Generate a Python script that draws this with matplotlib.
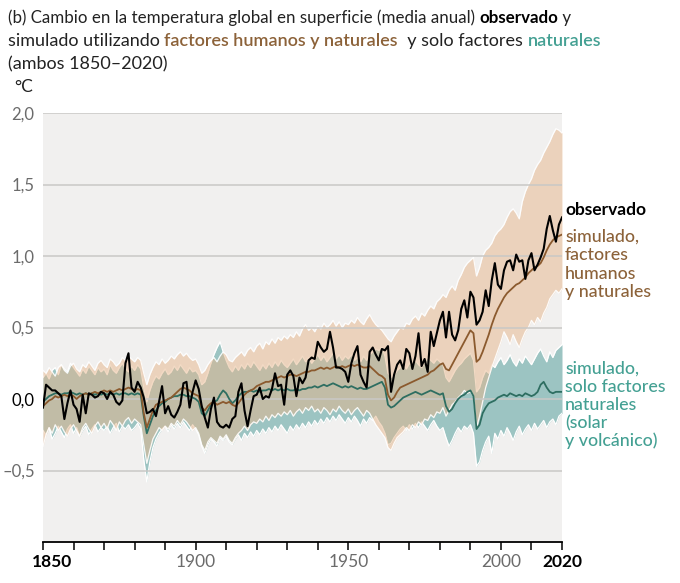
import matplotlib

matplotlib.use("Agg")
import matplotlib.pyplot as plt
import numpy as np
from matplotlib.transforms import blended_transform_factory, offset_copy

plt.rcParams["font.family"] = ["Lato", "DejaVu Sans"]

years = np.arange(1850, 2021)

# observed global surface temperature change vs 1850-1900 (°C)
observed = [
    -0.06, 0.10, 0.08, 0.06, 0.06, 0.04, 0.02, -0.14, -0.03, 0.06,
    -0.04, -0.07, -0.16, 0.03, -0.10, 0.04, 0.03, 0.01, 0.02, 0.05,
    0.04, 0.00, 0.05, 0.03, -0.02, -0.04, -0.01, 0.25, 0.32, 0.08,
    0.05, 0.12, 0.08, 0.01, -0.10, -0.09, -0.07, -0.12, -0.02, 0.09,
    -0.10, -0.05, -0.11, -0.13, -0.09, -0.04, 0.11, 0.12, -0.06, 0.05,
    0.13, 0.07, -0.05, -0.13, -0.20, -0.07, 0.01, -0.16, -0.19, -0.20,
    -0.18, -0.20, -0.14, -0.12, 0.05, 0.11, -0.08, -0.19, -0.08, 0.02,
    0.03, 0.08, 0.00, 0.02, 0.01, 0.07, 0.18, 0.09, 0.10, -0.04,
    0.17, 0.20, 0.16, 0.02, 0.15, 0.11, 0.15, 0.27, 0.29, 0.28,
    0.40, 0.36, 0.33, 0.35, 0.47, 0.36, 0.22, 0.22, 0.21, 0.19,
    0.12, 0.25, 0.32, 0.37, 0.17, 0.12, 0.08, 0.33, 0.36, 0.31,
    0.27, 0.35, 0.34, 0.37, 0.05, 0.17, 0.24, 0.27, 0.21, 0.35,
    0.32, 0.21, 0.30, 0.46, 0.23, 0.28, 0.19, 0.47, 0.37, 0.46,
    0.55, 0.61, 0.43, 0.61, 0.45, 0.41, 0.48, 0.63, 0.69, 0.57,
    0.75, 0.71, 0.52, 0.55, 0.61, 0.76, 0.65, 0.83, 0.95, 0.80,
    0.77, 0.90, 0.96, 0.97, 0.90, 1.01, 0.96, 0.97, 0.84, 0.97,
    1.02, 0.90, 0.94, 0.99, 1.05, 1.19, 1.28, 1.18, 1.10, 1.22,
    1.27,
]

# simulated, human + natural factors: mean and 5-95% range
hum_mean = [
    -0.05, -0.03, -0.01, 0.00, 0.02, 0.01, 0.02, 0.03, 0.02, 0.03,
    0.02, 0.00, 0.02, 0.03, 0.04, 0.03, 0.04, 0.05, 0.04, 0.05,
    0.06, 0.05, 0.06, 0.05, 0.06, 0.07, 0.06, 0.07, 0.08, 0.07,
    0.06, 0.07, 0.06, -0.10, -0.20, -0.14, -0.08, -0.04, -0.03, -0.02,
    -0.01, 0.00, 0.01, 0.03, 0.05, 0.07, 0.08, 0.07, 0.06, 0.04,
    0.03, 0.02, -0.06, -0.08, -0.05, -0.03, -0.02, -0.04, -0.03, -0.02,
    -0.03, -0.02, -0.04, -0.05, -0.03, 0.00, 0.03, 0.05, 0.06, 0.07,
    0.09, 0.10, 0.11, 0.12, 0.12, 0.13, 0.14, 0.15, 0.16, 0.15,
    0.16, 0.17, 0.17, 0.16, 0.17, 0.18, 0.19, 0.19, 0.20, 0.20,
    0.21, 0.22, 0.21, 0.22, 0.21, 0.22, 0.23, 0.22, 0.23, 0.22,
    0.23, 0.24, 0.23, 0.24, 0.23, 0.22, 0.22, 0.23, 0.21, 0.19,
    0.17, 0.16, 0.14, 0.03, -0.01, 0.01, 0.05, 0.08, 0.09, 0.10,
    0.11, 0.12, 0.13, 0.14, 0.15, 0.16, 0.17, 0.19, 0.20, 0.22,
    0.24, 0.25, 0.21, 0.20, 0.24, 0.28, 0.32, 0.36, 0.40, 0.44,
    0.48, 0.46, 0.26, 0.28, 0.33, 0.39, 0.45, 0.52, 0.58, 0.63,
    0.67, 0.71, 0.74, 0.76, 0.78, 0.80, 0.81, 0.83, 0.85, 0.88,
    0.90, 0.92, 0.93, 0.95, 0.99, 1.04, 1.08, 1.11, 1.13, 1.14,
    1.15,
]
hum_high = [
    0.20, 0.18, 0.22, 0.19, 0.16, 0.22, 0.24, 0.20, 0.18, 0.23,
    0.25, 0.21, 0.19, 0.24, 0.22, 0.26, 0.23, 0.20, 0.25, 0.27,
    0.24, 0.22, 0.28, 0.26, 0.23, 0.25, 0.29, 0.27, 0.30, 0.28,
    0.26, 0.29, 0.27, 0.18, 0.10, 0.17, 0.22, 0.26, 0.24, 0.28,
    0.25, 0.27, 0.30, 0.28, 0.31, 0.33, 0.30, 0.32, 0.29, 0.27,
    0.28, 0.24, 0.18, 0.20, 0.24, 0.27, 0.29, 0.26, 0.30, 0.33,
    0.31, 0.27, 0.26, 0.29, 0.31, 0.33, 0.30, 0.34, 0.36, 0.33,
    0.37, 0.39, 0.35, 0.40, 0.38, 0.42, 0.39, 0.43, 0.41, 0.44,
    0.42, 0.45, 0.43, 0.47, 0.44, 0.49, 0.52, 0.48, 0.50, 0.47,
    0.51, 0.49, 0.53, 0.50, 0.52, 0.55, 0.51, 0.54, 0.50, 0.53,
    0.52, 0.55, 0.53, 0.57, 0.54, 0.52, 0.56, 0.59, 0.55, 0.52,
    0.50, 0.48, 0.45, 0.42, 0.40, 0.44, 0.47, 0.50, 0.49, 0.53,
    0.52, 0.56, 0.58, 0.55, 0.60, 0.58, 0.62, 0.65, 0.63, 0.68,
    0.70, 0.73, 0.71, 0.76, 0.79, 0.76, 0.83, 0.87, 0.92, 0.95,
    0.97, 0.99, 0.86, 0.92, 1.00, 1.04, 1.06, 1.09, 1.14, 1.17,
    1.19, 1.22, 1.27, 1.31, 1.33, 1.30, 1.26, 1.38, 1.45, 1.50,
    1.54, 1.60, 1.64, 1.67, 1.72, 1.76, 1.80, 1.85, 1.89, 1.88,
    1.86,
]
hum_low = [
    -0.33, -0.25, -0.20, -0.24, -0.18, -0.22, -0.19, -0.23, -0.26, -0.21,
    -0.18, -0.22, -0.26, -0.20, -0.17, -0.21, -0.24, -0.19, -0.16, -0.20,
    -0.17, -0.21, -0.15, -0.18, -0.22, -0.16, -0.19, -0.15, -0.13, -0.17,
    -0.14, -0.16, -0.18, -0.32, -0.45, -0.36, -0.28, -0.24, -0.20, -0.22,
    -0.19, -0.21, -0.17, -0.19, -0.15, -0.18, -0.14, -0.16, -0.19, -0.22,
    -0.20, -0.24, -0.32, -0.36, -0.30, -0.27, -0.29, -0.31, -0.26, -0.28,
    -0.25, -0.29, -0.31, -0.27, -0.24, -0.22, -0.19, -0.22, -0.18, -0.16,
    -0.17, -0.14, -0.16, -0.12, -0.15, -0.11, -0.13, -0.10, -0.12, -0.09,
    -0.11, -0.08, -0.12, -0.09, -0.07, -0.10, -0.06, -0.08, -0.05, -0.09,
    -0.07, -0.10, -0.06, -0.08, -0.11, -0.07, -0.09, -0.05, -0.08, -0.10,
    -0.07, -0.11, -0.08, -0.06, -0.09, -0.12, -0.08, -0.10, -0.14, -0.18,
    -0.21, -0.24, -0.27, -0.34, -0.36, -0.31, -0.27, -0.25, -0.23, -0.20,
    -0.22, -0.18, -0.20, -0.16, -0.18, -0.14, -0.15, -0.11, -0.13, -0.09,
    -0.10, -0.06, -0.12, -0.08, -0.04, -0.02, 0.01, 0.03, 0.06, 0.04,
    0.05, 0.02, -0.20, -0.12, -0.02, 0.08, 0.15, 0.22, 0.28, 0.34,
    0.40, 0.47, 0.43, 0.38, 0.45, 0.40, 0.36, 0.42, 0.47, 0.50,
    0.55, 0.52, 0.57, 0.54, 0.60, 0.64, 0.70, 0.73, 0.76, 0.74,
    0.77,
]

# simulated, natural factors only: mean and 5-95% range
nat_mean = [
    -0.02, 0.00, 0.02, 0.03, 0.04, 0.04, 0.03, 0.04, 0.04, 0.05,
    0.04, 0.03, 0.04, 0.03, 0.04, 0.03, 0.04, 0.03, 0.04, 0.03,
    0.04, 0.03, 0.04, 0.03, 0.04, 0.03, 0.04, 0.04, 0.03, 0.04,
    0.03, 0.04, 0.03, -0.12, -0.24, -0.18, -0.12, -0.08, -0.05, -0.03,
    -0.02, 0.00, 0.01, 0.02, 0.02, 0.03, 0.03, 0.02, 0.02, 0.01,
    0.00, -0.02, -0.10, -0.12, -0.08, -0.04, -0.02, -0.01, 0.03, 0.06,
    0.04, 0.00, -0.03, -0.01, 0.02, 0.04, 0.05, 0.05, 0.06, 0.05,
    0.06, 0.05, 0.06, 0.06, 0.07, 0.06, 0.07, 0.06, 0.07, 0.06,
    0.07, 0.06, 0.06, 0.07, 0.06, 0.07, 0.07, 0.08, 0.08, 0.09,
    0.08, 0.09, 0.10, 0.09, 0.10, 0.11, 0.10, 0.09, 0.08, 0.09,
    0.08, 0.09, 0.08, 0.07, 0.08, 0.07, 0.07, 0.08, 0.09, 0.10,
    0.11, 0.12, 0.08, -0.04, -0.06, -0.05, -0.03, -0.01, 0.01, 0.02,
    0.03, 0.04, 0.05, 0.04, 0.03, 0.04, 0.05, 0.06, 0.05, 0.04,
    0.03, 0.04, -0.05, -0.09, -0.07, -0.03, 0.00, 0.02, 0.03, 0.05,
    0.06, 0.02, -0.21, -0.18, -0.10, -0.06, -0.03, -0.02, -0.01, 0.01,
    0.02, 0.03, 0.02, 0.04, 0.03, 0.02, 0.03, 0.02, 0.04, 0.03,
    0.02, 0.03, 0.05, 0.10, 0.12, 0.08, 0.05, 0.04, 0.05, 0.05,
    0.05,
]
nat_high = [
    0.15, 0.18, 0.14, 0.20, 0.22, 0.17, 0.24, 0.21, 0.19, 0.25,
    0.22, 0.19, 0.16, 0.21, 0.18, 0.23, 0.20, 0.17, 0.22, 0.19,
    0.21, 0.17, 0.24, 0.20, 0.18, 0.22, 0.25, 0.21, 0.19, 0.23,
    0.20, 0.24, 0.21, 0.08, -0.02, 0.06, 0.12, 0.16, 0.14, 0.18,
    0.21, 0.17, 0.19, 0.23, 0.20, 0.24, 0.21, 0.18, 0.22, 0.19,
    0.20, 0.17, 0.10, 0.12, 0.18, 0.25, 0.31, 0.36, 0.40, 0.33,
    0.27, 0.22, 0.19, 0.23, 0.20, 0.24, 0.21, 0.25, 0.22, 0.26,
    0.23, 0.20, 0.24, 0.21, 0.25, 0.22, 0.26, 0.23, 0.27, 0.24,
    0.22, 0.25, 0.28, 0.24, 0.27, 0.30, 0.26, 0.29, 0.25, 0.28,
    0.31, 0.27, 0.30, 0.26, 0.29, 0.32, 0.28, 0.31, 0.27, 0.30,
    0.28, 0.31, 0.27, 0.29, 0.26, 0.30, 0.27, 0.31, 0.33, 0.35,
    0.34, 0.36, 0.30, 0.18, 0.15, 0.17, 0.20, 0.22, 0.24, 0.21,
    0.25, 0.23, 0.27, 0.24, 0.22, 0.26, 0.29, 0.27, 0.25, 0.28,
    0.26, 0.24, 0.15, 0.12, 0.16, 0.20, 0.23, 0.25, 0.28, 0.30,
    0.32, 0.27, 0.05, 0.08, 0.15, 0.20, 0.18, 0.24, 0.22, 0.26,
    0.29, 0.24, 0.27, 0.31, 0.26, 0.23, 0.28, 0.25, 0.30, 0.27,
    0.24, 0.28, 0.32, 0.35, 0.30, 0.26, 0.33, 0.29, 0.34, 0.36,
    0.38,
]
nat_low = [
    -0.22, -0.25, -0.20, -0.28, -0.24, -0.19, -0.23, -0.27, -0.21, -0.18,
    -0.24, -0.20, -0.26, -0.22, -0.19, -0.25, -0.21, -0.18, -0.23, -0.20,
    -0.22, -0.19, -0.24, -0.20, -0.17, -0.23, -0.19, -0.21, -0.18, -0.22,
    -0.20, -0.17, -0.21, -0.42, -0.58, -0.44, -0.34, -0.28, -0.24, -0.21,
    -0.19, -0.23, -0.18, -0.21, -0.17, -0.20, -0.16, -0.19, -0.22, -0.18,
    -0.21, -0.25, -0.33, -0.38, -0.32, -0.28, -0.30, -0.33, -0.27, -0.29,
    -0.26, -0.30, -0.32, -0.28, -0.25, -0.29, -0.24, -0.27, -0.23, -0.26,
    -0.22, -0.25, -0.21, -0.24, -0.20, -0.23, -0.19, -0.22, -0.18, -0.21,
    -0.24, -0.19, -0.22, -0.18, -0.21, -0.17, -0.20, -0.16, -0.19, -0.15,
    -0.18, -0.14, -0.17, -0.13, -0.16, -0.12, -0.15, -0.11, -0.14, -0.17,
    -0.13, -0.16, -0.12, -0.15, -0.19, -0.14, -0.17, -0.13, -0.15, -0.12,
    -0.16, -0.19, -0.24, -0.32, -0.31, -0.27, -0.24, -0.21, -0.19, -0.22,
    -0.18, -0.21, -0.17, -0.20, -0.16, -0.19, -0.22, -0.18, -0.15, -0.19,
    -0.22, -0.20, -0.27, -0.33, -0.29, -0.24, -0.20, -0.23, -0.19, -0.21,
    -0.18, -0.24, -0.47, -0.44, -0.36, -0.30, -0.26, -0.38, -0.24, -0.28,
    -0.22, -0.26, -0.20, -0.24, -0.29, -0.23, -0.19, -0.25, -0.21, -0.18,
    -0.22, -0.17, -0.21, -0.18, -0.15, -0.20, -0.16, -0.14, -0.18, -0.12,
    -0.10,
]

y_ticks = [-0.5, 0.0, 0.5, 1.0, 1.5, 2.0]
y_labels = ["–0,5", "0,0", "0,5", "1,0", "1,5", "2,0"]
x_labels = [1850, 1900, 1950, 2000, 2020]

BG = "#f1f0ef"
GRID = "#c9c8c6"
INK = "#222222"
BROWN_TXT = "#8c6239"
BROWN_LINE = "#8b5a2e"
TEAL_TXT = "#44a093"
TEAL_LINE = "#2e6e61"
TEAL_FILL = "#9cc4c2"
PEACH_FILL = "#e7b68b"
GREY_TXT = "#6b6b6b"

fig = plt.figure(figsize=(6.8, 5.83), dpi=100)
W, H = 680, 583
ax = fig.add_axes([43 / W, 41 / H, 519 / W, 429 / H])
ax.set_facecolor(BG)
ax.set_xlim(1850, 2020)
ax.set_ylim(-1.0, 2.0)

ax.fill_between(years, nat_low, nat_high, color=TEAL_FILL, lw=0, zorder=1)
ax.plot(years, nat_high, color="white", lw=0.9, zorder=1.1)
ax.plot(years, nat_low, color="white", lw=0.9, zorder=1.1)
ax.fill_between(years, hum_low, hum_high, color=PEACH_FILL, alpha=0.5, lw=0, zorder=1.5)
ax.plot(years, hum_high, color="white", lw=0.9, alpha=0.9, zorder=1.6)
ax.plot(years, hum_low, color="white", lw=0.9, alpha=0.9, zorder=1.6)

for yv in y_ticks:
    ax.axhline(yv, color=GRID, lw=1.1, zorder=2)

ax.plot(years, nat_mean, color=TEAL_LINE, lw=1.3, zorder=3)
ax.plot(years, hum_mean, color=BROWN_LINE, lw=1.3, zorder=3)
ax.plot(years, observed, color="black", lw=1.5, zorder=4)

for s in ["top", "right", "left"]:
    ax.spines[s].set_visible(False)
ax.spines["bottom"].set_color("black")
ax.spines["bottom"].set_linewidth(1.3)
ax.spines["bottom"].set_zorder(5)

ax.set_yticks(y_ticks)
ax.set_yticklabels(y_labels, fontsize=12, color=GREY_TXT)
ax.get_yticklabels()[1].set_color("black")
ax.tick_params(axis="y", length=0, pad=6)

ax.set_xticks(np.arange(1850, 2021, 10))
ax.set_xticklabels([])
ax.tick_params(axis="x", direction="out", length=6, width=1.1, color="black")

tr = blended_transform_factory(ax.transData, ax.transAxes)
for yr in x_labels:
    bold = yr in (1850, 2020)
    dx = 9 if yr == 1850 else 0
    t = offset_copy(tr, fig=fig, x=dx, y=-12, units="dots")
    ax.text(yr, 0, str(yr), transform=t, ha="center", va="top", fontsize=12.5,
            color="black" if bold else GREY_TXT, fontweight="bold" if bold else "normal")

# right-hand labels
lx = 565 / W
fig.text(lx, 1 - 215 / H, "observado", fontsize=12.5, fontweight="bold", color="black", va="baseline")
for i, s in enumerate(["simulado,", "factores", "humanos", "y naturales"]):
    fig.text(lx, 1 - (242 + 18.3 * i) / H, s, fontsize=12.8, fontweight="medium",
             color=BROWN_TXT, va="baseline")
for i, s in enumerate(["simulado,", "solo factores", "naturales", "(solar", "y volcánico)"]):
    fig.text(lx, 1 - (374 + 18 * i) / H, s, fontsize=12.8, fontweight="medium",
             color=TEAL_TXT, va="baseline")

# title with mixed colours
renderer = fig.canvas.get_renderer()


def rich_line(x_px, base_px, pieces, size):
    x = x_px / W
    for s, color, weight in pieces:
        t = fig.text(x, 1 - base_px / H, s, fontsize=size, color=color, fontweight=weight, va="baseline")
        x += t.get_window_extent(renderer).width / W


rich_line(8, 23, [("(b) Cambio en la temperatura global en superficie (media anual) ", INK, "normal"),
                  ("observado", "black", "bold"),
                  (" y", INK, "normal")], 12.2)
rich_line(8, 46, [("simulado utilizando ", INK, "normal"),
                  ("factores humanos y naturales", BROWN_TXT, "semibold"),
                  ("  y solo factores ", INK, "normal"),
                  ("naturales", TEAL_TXT, "semibold")], 13.0)
rich_line(8, 69, [("(ambos 1850–2020)", INK, "normal")], 13.0)
fig.text(14 / W, 1 - 92 / H, "°C", fontsize=12.5, color=INK, va="baseline")

fig.savefig("out.png", dpi=100)
